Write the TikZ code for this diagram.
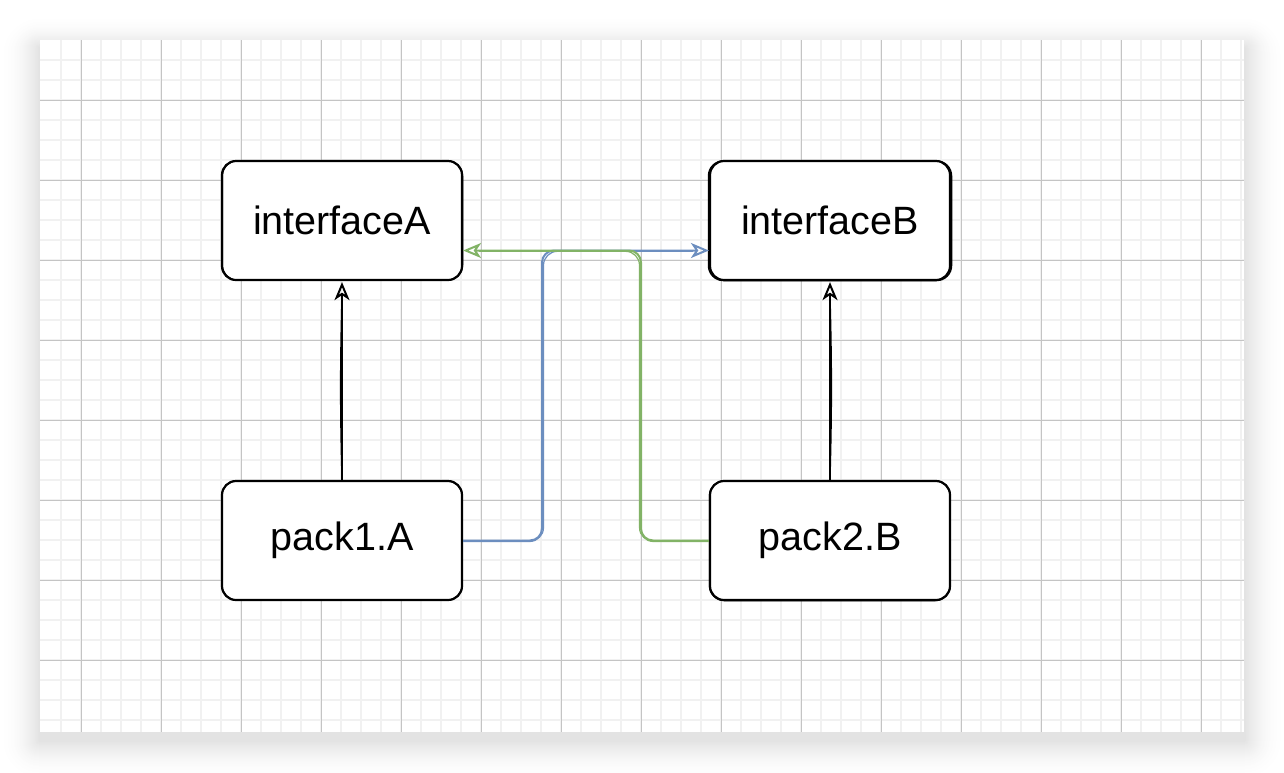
\documentclass[tikz,border=0pt]{standalone}
\usepackage{fontspec}
\setmainfont{Liberation Sans}
\usetikzlibrary{arrows.meta,calc}
\definecolor{minorgrid}{HTML}{F1F1F1}
\definecolor{majorgrid}{HTML}{C4C4C4}
\definecolor{dblue}{HTML}{6C8EBF}
\definecolor{dgreen}{HTML}{82B366}
\tikzset{
  box/.style={draw=black, line width=2.2pt, rounded corners=14pt, fill=white,
    minimum width=240pt, minimum height=119pt, inner sep=0pt,
    font=\fontsize{39.5}{46}\selectfont},
  sketchbox/.style={draw=black, line width=1.3pt, rounded corners=15pt},
  tip/.style={-{Stealth[open, length=18pt, width=15pt, inset=5pt, line width=2pt]}},
  blackarrow/.style={tip, draw=black, line width=2pt},
  blackextra/.style={draw=black, line width=1.3pt},
  blueline/.style={tip, draw=dblue, line width=2pt, rounded corners=12pt},
  greenline/.style={tip, draw=dgreen, line width=2pt, rounded corners=12pt},
  blueextra/.style={draw=dblue, line width=1.2pt, rounded corners=14pt},
  greenextra/.style={draw=dgreen, line width=1.2pt, rounded corners=14pt},
}
\begin{document}
\begin{tikzpicture}[x=1pt,y=-1pt]
\useasboundingbox (0,0) rectangle (1284,772);
\fill[white] (0,0) rectangle (1284,772);
% shadow: opaque layers, outermost (lightest) first
\foreach \i in {40,39,...,1}{
  \pgfmathsetmacro{\k}{11*((41-\i)/40)^2}
  \fill[black!\k, rounded corners=\i pt]
    (40-\i,40-\i*0.8+8) rectangle (1244+\i,732+\i+8);
}
\fill[white] (40,40) rectangle (1244,732);
% grid
\foreach \x in {61,81,...,1241} \draw[minorgrid, line width=1.4pt] (\x,40) -- (\x,732);
\foreach \y in {60,80,...,720} \draw[minorgrid, line width=1.4pt] (40,\y) -- (1244,\y);
\foreach \x in {81,161,...,1201} \draw[majorgrid, line width=0.9pt] (\x,40) -- (\x,732);
\foreach \y in {100,180,...,660} \draw[majorgrid, line width=0.9pt] (40,\y) -- (1244,\y);
% nodes
\node[box] (iA) at (342,220.5) {interfaceA};
\node[box] (iB) at (830,220.5) {interfaceB};
\node[box] (pA) at (342,540.5) {pack1.A};
\node[box] (pB) at (830,540.5) {pack2.B};
% sketch second strokes on the boxes
\draw[sketchbox] ([shift={(1.5,1)}]iA.north west) rectangle ([shift={(-0.5,-1)}]iA.south east);
\draw[sketchbox] ([shift={(-0.5,1)}]iB.north west) rectangle ([shift={(0.5,-0.5)}]iB.south east);
\draw[sketchbox] ([shift={(1,1)}]pA.north west) rectangle ([shift={(-1,-1)}]pA.south east);
\draw[sketchbox] ([shift={(0.5,1)}]pB.north west) rectangle ([shift={(-1,-0.5)}]pB.south east);
% bend points
\coordinate (bb) at (542,540.5);
\coordinate (gb) at (641,540.5);
% connectors
\draw[blackarrow] (pA.north) -- ([yshift=-1pt]iA.south);
\draw[blackextra] (pA.north) to[bend left=1.5] ([yshift=-14pt]iA.south);
\draw[blackarrow] (pB.north) -- ([yshift=-1pt]iB.south);
\draw[blackextra] (pB.north) to[bend right=1.5] ([yshift=-14pt]iB.south);
\draw[blueline] (pA.east) -- (bb) |- ([yshift=-30pt]iB.west);
\draw[blueextra] ([yshift=-1pt]pA.east) -- ([shift={(1.5,1)}]bb) |- ([shift={(-16,30.8)}]iB.west);
\draw[greenline] (pB.west) -- (gb) |- ([yshift=-30pt]iA.east);
\draw[greenextra] ([yshift=-1pt]pB.west) -- ([shift={(-1.5,1)}]gb) |- ([shift={(16,30.8)}]iA.east);
\end{tikzpicture}
\end{document}
